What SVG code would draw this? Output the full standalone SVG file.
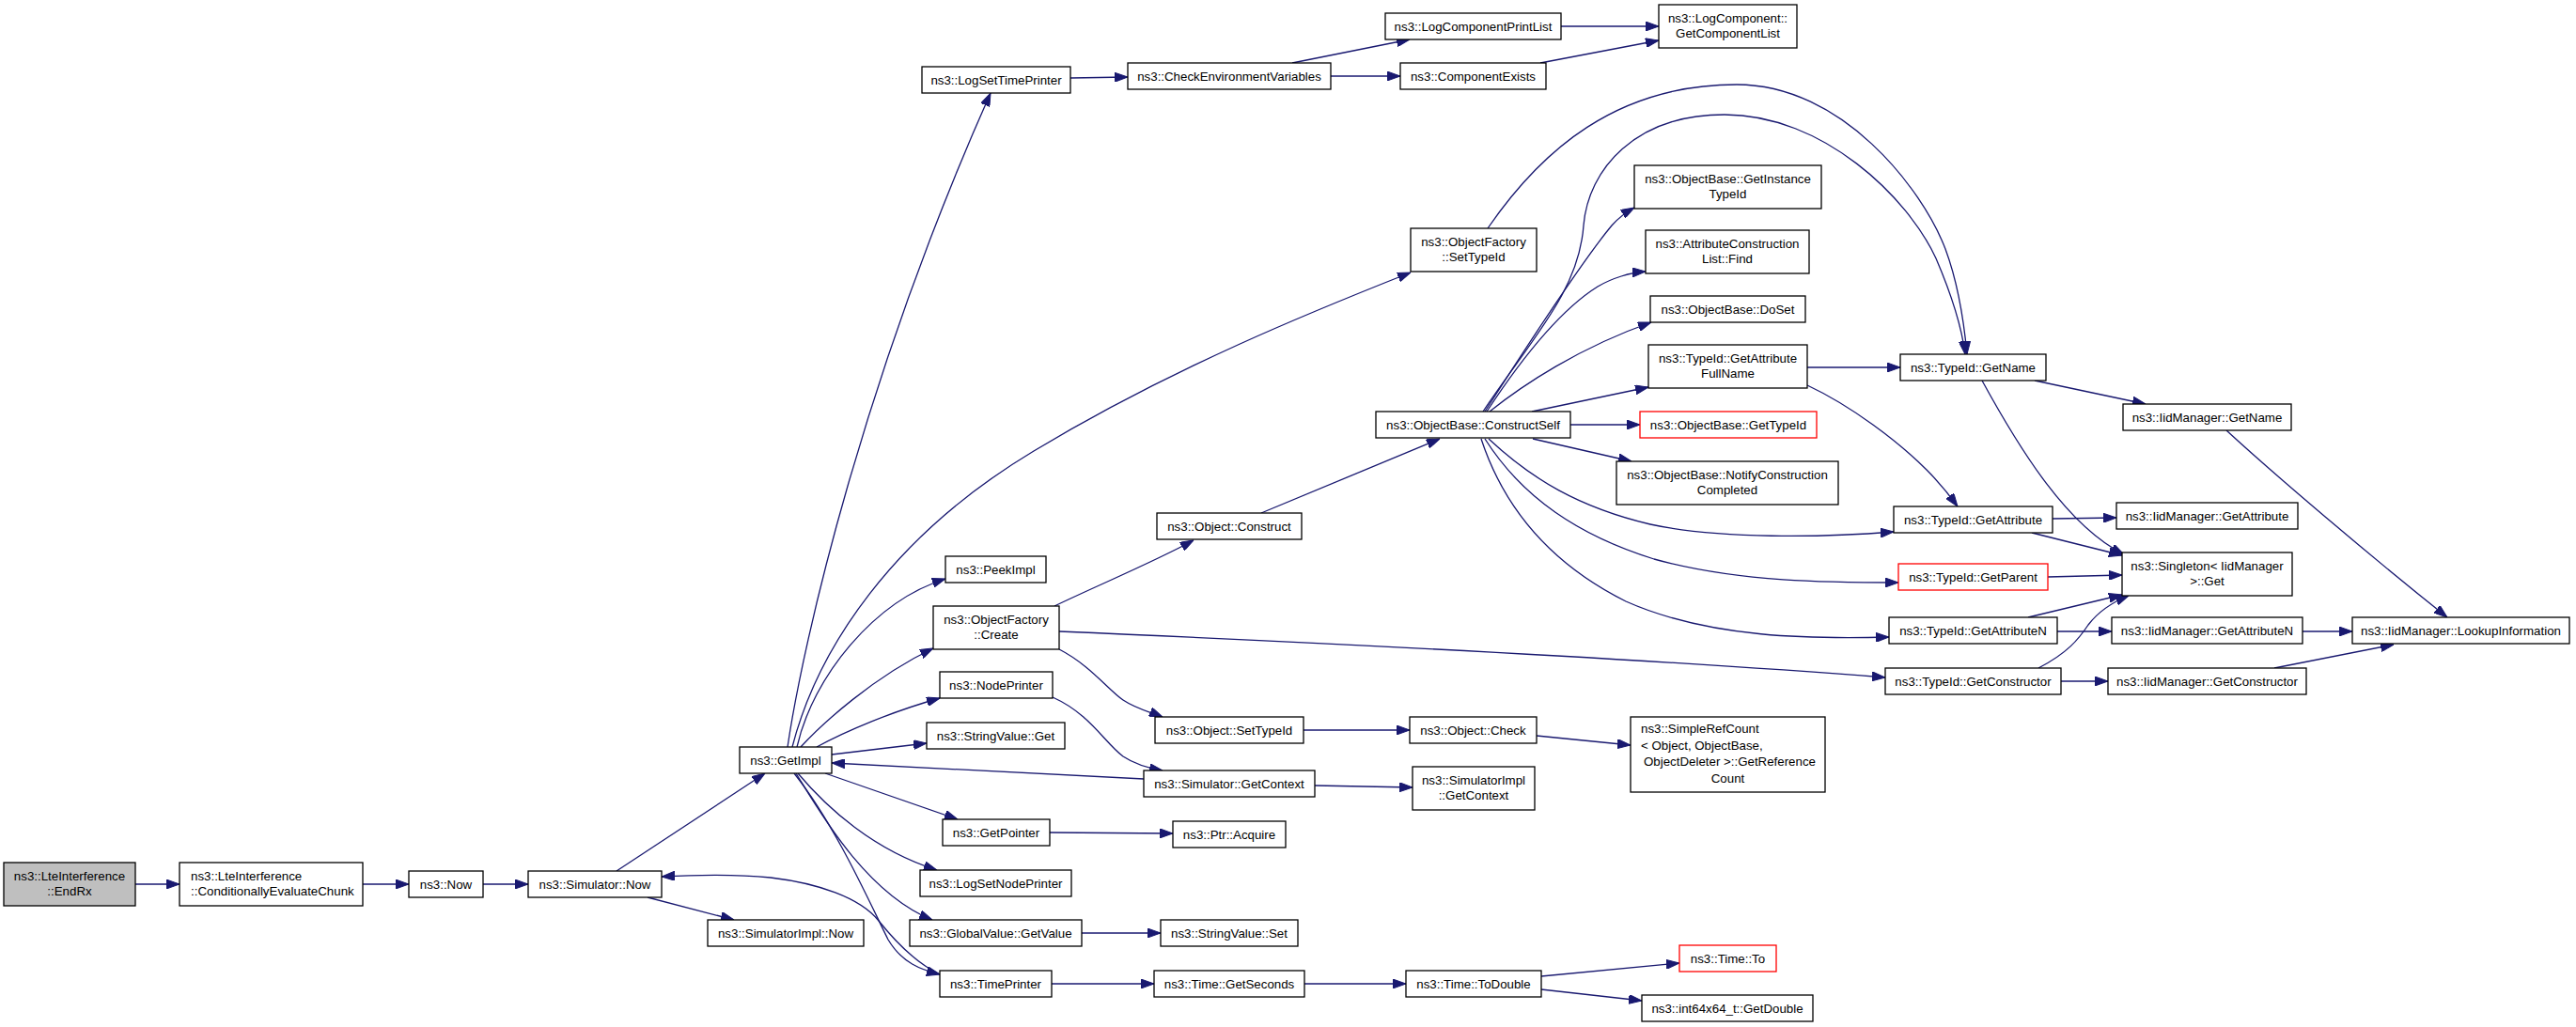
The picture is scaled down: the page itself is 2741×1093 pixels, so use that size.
<svg xmlns="http://www.w3.org/2000/svg" width="2741" height="1093" viewBox="0 0 2741 1093">
<defs>
<style>
.n rect{fill:#ffffff;stroke:#000000;stroke-width:1.3}
.n.root rect{fill:#bfbfbf}
.n.red rect{stroke:#ff0000}
.n text{font-family:"Liberation Sans",Arial,sans-serif;font-size:13.3px;fill:#000000;text-anchor:middle}
.n text.l{text-anchor:start}
#edges path{fill:none;stroke:#191970;stroke-width:1.3;marker-end:url(#ah)}
</style>
<marker id="ah" markerUnits="userSpaceOnUse" markerWidth="14" markerHeight="10" refX="14" refY="5" orient="auto" viewBox="0 0 14 10">
<path d="M0,0 L14,5 L0,10 Z" fill="#191970" stroke="#191970" stroke-width="1"/>
</marker>
</defs>
<rect width="2741" height="1093" fill="#ffffff"/>
<g id="edges">
<path d="M144,941 L191,941"/>
<path d="M386,941 L435,941"/>
<path d="M514,941 L562,941"/>
<path d="M656,927 L814,823"/>
<path d="M689,955 L781,979"/>
<path d="M1000,1037 C975,1025 955,1005 935,980 C915,955 870,940 820,934 C780,930 740,931 704,933"/>
<path d="M838,795 C855,680 920,400 1054,99"/>
<path d="M843,795 C870,690 950,570 1100,480 C1250,390 1400,330 1501,290"/>
<path d="M848,795 C865,720 930,640 1006,616"/>
<path d="M852,795 C875,770 930,720 993,690"/>
<path d="M869,795 C900,778 950,757 1000,743"/>
<path d="M885,803 L986,791"/>
<path d="M1217,829 L885,812"/>
<path d="M878,823 L1019,872"/>
<path d="M849,823 C880,860 930,905 997,926"/>
<path d="M847,823 C870,860 920,950 992,979"/>
<path d="M845,823 C890,880 925,960 945,1000 C960,1025 980,1032 1000,1037"/>
<path d="M1122,645 C1170,622 1230,597 1270,575"/>
<path d="M1127,691 C1160,708 1180,735 1195,745 C1210,755 1225,758 1237,763"/>
<path d="M1127,672 C1500,688 1800,705 2006,721"/>
<path d="M1120,742 C1160,760 1175,790 1195,805 C1210,815 1225,818 1237,820"/>
<path d="M1117,886 L1248,887"/>
<path d="M1151,993 L1235,993"/>
<path d="M1119,1047 L1228,1047"/>
<path d="M1388,1047 L1496,1047"/>
<path d="M1640,1039 L1787,1025"/>
<path d="M1640,1053 L1747,1065"/>
<path d="M1387,777 L1500,777"/>
<path d="M1635,783 L1735,793"/>
<path d="M1399,836 L1503,838"/>
<path d="M1139,83 L1200,82"/>
<path d="M1375,67 L1500,42"/>
<path d="M1416,81 L1490,81"/>
<path d="M1661,28 L1765,28"/>
<path d="M1639,67 L1765,43"/>
<path d="M1583,243 C1640,160 1720,90 1848,90 C1960,90 2045,200 2070,265 C2083,300 2090,345 2093,377"/>
<path d="M1342,546 L1532,467"/>
<path d="M1580,438 C1630,360 1690,270 1715,240 C1722,232 1730,226 1739,221"/>
<path d="M1582,438 C1620,380 1660,330 1700,305 C1715,296 1735,290 1751,289"/>
<path d="M1585,438 C1620,410 1680,370 1757,343"/>
<path d="M1630,438 L1754,412"/>
<path d="M1671,452 L1745,452"/>
<path d="M1631,467 L1736,491"/>
<path d="M1584,467 C1630,510 1680,540 1756,558 C1830,574 1940,572 2015,566"/>
<path d="M1580,467 C1620,530 1680,570 1760,595 C1850,620 1950,620 2020,620"/>
<path d="M1576,467 C1600,540 1650,600 1730,640 C1820,680 1930,680 2010,678"/>
<path d="M1578,438 C1630,360 1680,310 1685,240 C1690,180 1740,122 1835,122 C1940,122 2030,210 2060,275 C2075,310 2087,345 2091,377"/>
<path d="M1923,391 L2022,391"/>
<path d="M1923,410 C1970,432 2020,470 2050,500 C2065,515 2075,528 2083,539"/>
<path d="M2165,405 L2283,430"/>
<path d="M2109,405 C2150,480 2200,560 2260,590"/>
<path d="M2184,552 L2252,551"/>
<path d="M2162,567 L2258,591"/>
<path d="M2179,614 L2258,612"/>
<path d="M2158,657 L2258,633"/>
<path d="M2169,711 C2200,695 2212,680 2222,665 C2235,648 2250,640 2265,634"/>
<path d="M2189,672 L2247,672"/>
<path d="M2450,672 L2503,672"/>
<path d="M2193,725 L2243,725"/>
<path d="M2420,711 L2547,686"/>
<path d="M2369,458 C2420,505 2520,590 2604,657"/>
</g>
<g id="n_endrx" class="n root"><rect x="4" y="918" width="140" height="46"/><text x="74" y="937">ns3::LteInterference</text><text x="74" y="953.4">::EndRx</text></g>
<g id="n_condeval" class="n"><rect x="191" y="918" width="195" height="46"/><text class="l" x="203" y="937">ns3::LteInterference</text><text class="l" x="203" y="953.4">::ConditionallyEvaluateChunk</text></g>
<g id="n_now" class="n"><rect x="435" y="927" width="79" height="28"/><text x="474.5" y="945.7">ns3::Now</text></g>
<g id="n_simnow" class="n"><rect x="562" y="927" width="142" height="28"/><text x="633" y="945.7">ns3::Simulator::Now</text></g>
<g id="n_simimplnow" class="n"><rect x="753" y="979" width="166" height="28"/><text x="836" y="997.7">ns3::SimulatorImpl::Now</text></g>
<g id="n_getimpl" class="n"><rect x="787" y="795" width="98" height="28"/><text x="836" y="813.7">ns3::GetImpl</text></g>
<g id="n_logsettimeprinter" class="n"><rect x="981" y="71" width="158" height="28"/><text x="1060" y="89.7">ns3::LogSetTimePrinter</text></g>
<g id="n_checkenv" class="n"><rect x="1200" y="67" width="216" height="28"/><text x="1308" y="85.7">ns3::CheckEnvironmentVariables</text></g>
<g id="n_logcompprintlist" class="n"><rect x="1474" y="14" width="187" height="28"/><text x="1567.5" y="32.7">ns3::LogComponentPrintList</text></g>
<g id="n_compexists" class="n"><rect x="1490" y="67" width="155" height="28"/><text x="1567.5" y="85.7">ns3::ComponentExists</text></g>
<g id="n_getcomplist" class="n"><rect x="1765" y="5" width="147" height="46"/><text x="1838.5" y="24">ns3::LogComponent::</text><text x="1838.5" y="40.4">GetComponentList</text></g>
<g id="n_ofsettypeid" class="n"><rect x="1501" y="243" width="134" height="46"/><text x="1568" y="262">ns3::ObjectFactory</text><text x="1568" y="278.4">::SetTypeId</text></g>
<g id="n_peekimpl" class="n"><rect x="1006" y="592" width="107" height="28"/><text x="1059.5" y="610.7">ns3::PeekImpl</text></g>
<g id="n_ofcreate" class="n"><rect x="993" y="645" width="134" height="46"/><text x="1060" y="664">ns3::ObjectFactory</text><text x="1060" y="680.4">::Create</text></g>
<g id="n_nodeprinter" class="n"><rect x="1000" y="715" width="120" height="28"/><text x="1060" y="733.7">ns3::NodePrinter</text></g>
<g id="n_strvalget" class="n"><rect x="986" y="769" width="147" height="28"/><text x="1059.5" y="787.7">ns3::StringValue::Get</text></g>
<g id="n_getpointer" class="n"><rect x="1003" y="872" width="114" height="28"/><text x="1060" y="890.7">ns3::GetPointer</text></g>
<g id="n_logsetnodeprinter" class="n"><rect x="979" y="926" width="161" height="28"/><text x="1059.5" y="944.7">ns3::LogSetNodePrinter</text></g>
<g id="n_gvgetvalue" class="n"><rect x="968" y="979" width="183" height="28"/><text x="1059.5" y="997.7">ns3::GlobalValue::GetValue</text></g>
<g id="n_timeprinter" class="n"><rect x="1000" y="1033" width="119" height="28"/><text x="1059.5" y="1051.7">ns3::TimePrinter</text></g>
<g id="n_objconstruct" class="n"><rect x="1231" y="546" width="154" height="28"/><text x="1308" y="564.7">ns3::Object::Construct</text></g>
<g id="n_objsettypeid" class="n"><rect x="1229" y="763" width="158" height="28"/><text x="1308" y="781.7">ns3::Object::SetTypeId</text></g>
<g id="n_simgetcontext" class="n"><rect x="1217" y="820" width="182" height="28"/><text x="1308" y="838.7">ns3::Simulator::GetContext</text></g>
<g id="n_ptracquire" class="n"><rect x="1248" y="874" width="120" height="28"/><text x="1308" y="892.7">ns3::Ptr::Acquire</text></g>
<g id="n_strvalset" class="n"><rect x="1235" y="979" width="146" height="28"/><text x="1308" y="997.7">ns3::StringValue::Set</text></g>
<g id="n_getseconds" class="n"><rect x="1228" y="1033" width="160" height="28"/><text x="1308" y="1051.7">ns3::Time::GetSeconds</text></g>
<g id="n_constructself" class="n"><rect x="1464" y="438" width="207" height="28"/><text x="1567.5" y="456.7">ns3::ObjectBase::ConstructSelf</text></g>
<g id="n_objcheck" class="n"><rect x="1500" y="763" width="135" height="28"/><text x="1567.5" y="781.7">ns3::Object::Check</text></g>
<g id="n_simimplgetcontext" class="n"><rect x="1503" y="816" width="130" height="46"/><text x="1568" y="835">ns3::SimulatorImpl</text><text x="1568" y="851.4">::GetContext</text></g>
<g id="n_todouble" class="n"><rect x="1496" y="1033" width="144" height="28"/><text x="1568" y="1051.7">ns3::Time::ToDouble</text></g>
<g id="n_getinstancetypeid" class="n"><rect x="1739" y="176" width="199" height="46"/><text x="1838.5" y="195">ns3::ObjectBase::GetInstance</text><text x="1838.5" y="211.4">TypeId</text></g>
<g id="n_attrfind" class="n"><rect x="1751" y="245" width="174" height="46"/><text x="1838" y="264">ns3::AttributeConstruction</text><text x="1838" y="280.4">List::Find</text></g>
<g id="n_doset" class="n"><rect x="1756" y="315" width="165" height="28"/><text x="1838.5" y="333.7">ns3::ObjectBase::DoSet</text></g>
<g id="n_getattrfullname" class="n"><rect x="1754" y="367" width="169" height="46"/><text x="1838.5" y="386">ns3::TypeId::GetAttribute</text><text x="1838.5" y="402.4">FullName</text></g>
<g id="n_obgettypeid" class="n red"><rect x="1745" y="438" width="188" height="28"/><text x="1839" y="456.7">ns3::ObjectBase::GetTypeId</text></g>
<g id="n_notify" class="n"><rect x="1720" y="491" width="236" height="46"/><text x="1838" y="510">ns3::ObjectBase::NotifyConstruction</text><text x="1838" y="526.4">Completed</text></g>
<g id="n_simplerefcount" class="n"><rect x="1735" y="763" width="207" height="80"/><text class="l" x="1746" y="780">ns3::SimpleRefCount</text><text class="l" x="1746" y="797.5">&lt; Object, ObjectBase,</text><text x="1840.5" y="815"> ObjectDeleter &gt;::GetReference</text><text x="1838.5" y="832.5">Count</text></g>
<g id="n_timeto" class="n red"><rect x="1787" y="1006" width="103" height="28"/><text x="1838.5" y="1024.7">ns3::Time::To</text></g>
<g id="n_getdouble" class="n"><rect x="1747" y="1059" width="182" height="28"/><text x="1838" y="1077.7">ns3::int64x64_t::GetDouble</text></g>
<g id="n_tgetname" class="n"><rect x="2022" y="377" width="155" height="28"/><text x="2099.5" y="395.7">ns3::TypeId::GetName</text></g>
<g id="n_tgetattr" class="n"><rect x="2015" y="539" width="169" height="28"/><text x="2099.5" y="557.7">ns3::TypeId::GetAttribute</text></g>
<g id="n_tgetparent" class="n red"><rect x="2020" y="600" width="159" height="28"/><text x="2099.5" y="618.7">ns3::TypeId::GetParent</text></g>
<g id="n_tgetattrn" class="n"><rect x="2010" y="657" width="179" height="28"/><text x="2099.5" y="675.7">ns3::TypeId::GetAttributeN</text></g>
<g id="n_tgetctor" class="n"><rect x="2006" y="711" width="187" height="28"/><text x="2099.5" y="729.7">ns3::TypeId::GetConstructor</text></g>
<g id="n_igetname" class="n"><rect x="2259" y="430" width="179" height="28"/><text x="2348.5" y="448.7">ns3::IidManager::GetName</text></g>
<g id="n_igetattr" class="n"><rect x="2252" y="535" width="193" height="28"/><text x="2348.5" y="553.7">ns3::IidManager::GetAttribute</text></g>
<g id="n_singleton" class="n"><rect x="2258" y="588" width="181" height="46"/><text x="2348.5" y="607">ns3::Singleton&lt; IidManager</text><text x="2348.5" y="623.4"> &gt;::Get</text></g>
<g id="n_igetattrn" class="n"><rect x="2247" y="657" width="203" height="28"/><text x="2348.5" y="675.7">ns3::IidManager::GetAttributeN</text></g>
<g id="n_igetctor" class="n"><rect x="2243" y="711" width="211" height="28"/><text x="2348.5" y="729.7">ns3::IidManager::GetConstructor</text></g>
<g id="n_lookup" class="n"><rect x="2503" y="657" width="231" height="28"/><text x="2618.5" y="675.7">ns3::IidManager::LookupInformation</text></g>
</svg>
